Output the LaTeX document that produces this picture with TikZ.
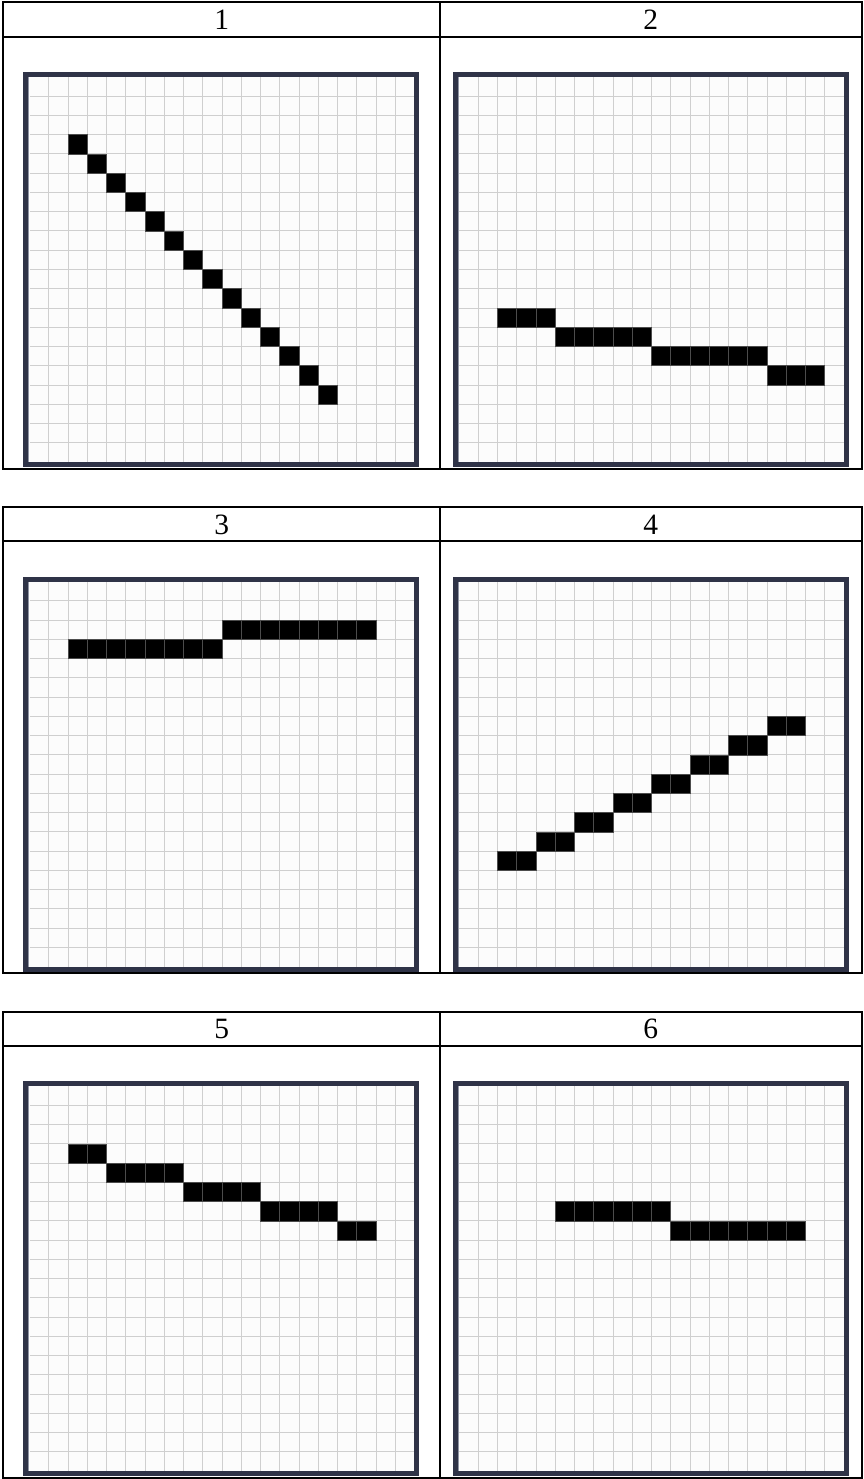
\documentclass[tikz,border=0pt]{standalone}
\usepackage{fontspec}
\setmainfont{Liberation Serif}
\definecolor{frame}{HTML}{2F3347}
\definecolor{frameinner}{HTML}{8E93A3}
\definecolor{gridc}{HTML}{CFCFCF}
\definecolor{paper}{HTML}{FCFCFC}
\tikzset{
  tabline/.style={line width=2pt, draw=black},
  cellbox/.style={fill=black, draw=black!70!white, line width=0.6pt},
  gridline/.style={draw=gridc, line width=1pt},
  hdr/.style={font=\fontsize{29.5}{31}\selectfont, inner sep=0pt, anchor=center}
}
% #1 x offset, #2 y offset, #3 list of row/firstcol/lastcol
\newcommand{\mypanel}[3]{%
  \begin{scope}[shift={(#1,#2)}]
    \fill[paper] (28,76) rectangle (415,463);
    \foreach \k in {1,...,19}{
      \draw[gridline] (29.5+\k*19.25,77) -- ++(0,385);
      \draw[gridline] (29.5,77+\k*19.25) -- ++(385,0);
    }
    \foreach \r/\a/\b in {#3}{
      \foreach \c in {\a,...,\b}{
        \draw[cellbox] (29.5+\c*19.25,77+\r*19.25) rectangle ++(19.25,19.25);
      }
    }
    \draw[frameinner, line width=1.2pt] (28.6,76.6) rectangle (415.2,462.6);
    \draw[frame, line width=5pt] (25.5,74.5) rectangle (416.9,464.7);
  \end{scope}}
% #1 y offset, #2 #3 labels, #4 #5 node names
\newcommand{\mytable}[5]{%
  \begin{scope}[shift={(0,#1)}]
    \draw[tabline] (3.3,2.5) rectangle (861.5,468.5);
    \draw[tabline] (3.3,36.8) -- (861.5,36.8);
    \draw[tabline] (440,2.5) -- (440,468.5);
    \node[hdr] (#4) at (221.7,20) {#2};
    \node[hdr] (#5) at (650.7,20) {#3};
  \end{scope}}
\begin{document}
\begin{tikzpicture}[x=1pt,y=-1pt]
  \useasboundingbox (0,0) rectangle (863,1479);
  \fill[white] (0,0) rectangle (863,1479);
  % table 1
  \mypanel{0}{0}{3/2/2,4/3/3,5/4/4,6/5/5,7/6/6,8/7/7,9/8/8,10/9/9,11/10/10,12/11/11,13/12/12,14/13/13,15/14/14,16/15/15}
  \mypanel{429.5}{0}{12/2/4,13/5/9,14/10/15,15/16/18}
  \mytable{0}{1}{2}{h1}{h2}
  % table 2
  \mypanel{0}{504.6}{2/10/17,3/2/9}
  \mypanel{429.5}{504.6}{7/16/17,8/14/15,9/12/13,10/10/11,11/8/9,12/6/7,13/4/5,14/2/3}
  \mytable{504.6}{3}{4}{h3}{h4}
  % table 3
  \mypanel{0}{1009.2}{3/2/3,4/4/7,5/8/11,6/12/15,7/16/17}
  \mypanel{429.5}{1009.2}{6/5/10,7/11/17}
  \mytable{1009.2}{5}{6}{h5}{h6}
\end{tikzpicture}
\end{document}
